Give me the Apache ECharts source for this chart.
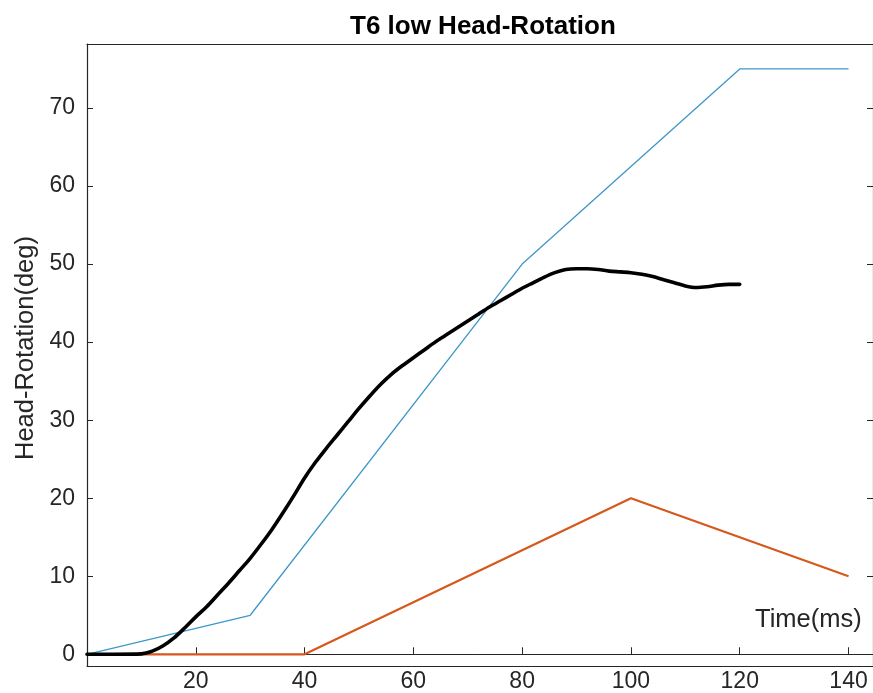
<!DOCTYPE html>
<html>
<head>
<meta charset="utf-8">
<title>T6 low Head-Rotation</title>
<script src="https://cdn.jsdelivr.net/npm/echarts@6/dist/echarts.min.js"></script>
<style>
  html, body { margin: 0; padding: 0; background: #fff; }
  #chart { width: 873px; height: 693px; }
</style>
</head>
<body>
<div id="chart"></div>
<script>
// Head rotation over time (ms), three traces
const xTicks = [20, 40, 60, 80, 100, 120, 140];
const yTicks = [0, 10, 20, 30, 40, 50, 60, 70];

// upper corridor (thin blue)
const upperTime = [0, 30, 80, 120, 140];
const upperAngle = [0, 5, 50, 75, 75];

// lower corridor (orange)
const lowerTime = [0, 40, 100, 140];
const lowerAngle = [0, 0, 20, 10];

// measured response (thick black)
const measTime = [0, 5, 10, 12, 14, 16, 18, 20, 22, 24, 26, 28, 30, 32, 34, 36, 38, 40,
  42, 44, 46, 48, 50, 52, 54, 56, 58, 60, 62, 64, 66, 68, 70, 72, 74, 76, 78, 80,
  82, 84, 86, 88, 90, 92, 94, 96, 98, 100, 102, 104, 106, 108, 110, 112, 114, 116, 118, 120];
const measAngle = [0, 0, 0.05, 0.4, 1.1, 2.1, 3.4, 4.8, 6.1, 7.6, 9.1, 10.7, 12.3, 14.1, 16.0, 18.1, 20.3, 22.6,
  24.6, 26.4, 28.1, 29.8, 31.5, 33.1, 34.6, 35.9, 37.0, 38.0, 39.0, 40.0, 40.9, 41.8, 42.7, 43.6, 44.5, 45.3, 46.1, 46.9,
  47.6, 48.3, 48.9, 49.3, 49.4, 49.4, 49.3, 49.1, 49.0, 48.9, 48.7, 48.4, 48.0, 47.6, 47.2, 47.0, 47.1, 47.3, 47.4, 47.4];

const pairs = (xs, ys) => xs.map((x, i) => [x, ys[i]]);

const FONT = '"Liberation Sans", Arial, Helvetica, sans-serif';
const AXIS = '#262626';

const chart = echarts.init(document.getElementById('chart'), null, { renderer: 'canvas' });

chart.setOption({
  animation: false,
  backgroundColor: '#ffffff',
  title: {
    text: 'T6 low Head-Rotation',
    left: 345,
    top: 9,
    textStyle: { fontFamily: FONT, fontSize: 26, fontWeight: 'bold', color: '#000' }
  },
  grid: { left: 87, top: 44, width: 786, height: 622, containLabel: false },
  xAxis: [
    { // bottom frame edge with tick labels
      type: 'value', position: 'bottom', min: 0, max: 144.5,
      axisLine: { show: true, onZero: false, lineStyle: { color: AXIS, width: 1.2 } },
      axisTick: { show: false },
      splitLine: { show: false },
      axisLabel: {
        customValues: xTicks, margin: 4,
        fontFamily: FONT, fontSize: 23, color: AXIS
      }
    },
    { // top frame edge
      type: 'value', position: 'top', min: 0, max: 144.5,
      axisLine: { show: true, onZero: false, lineStyle: { color: AXIS, width: 1.2 } },
      axisTick: { show: false }, axisLabel: { show: false }, splitLine: { show: false }
    },
    { // axis line through y = 0 with ticks
      type: 'value', position: 'bottom', min: 0, max: 144.5,
      axisLine: { show: true, onZero: true, onZeroAxisIndex: 0, lineStyle: { color: AXIS, width: 1 } },
      axisTick: { show: true, inside: true, length: 7, customValues: xTicks, lineStyle: { color: AXIS, width: 1 } },
      axisLabel: { show: false }, splitLine: { show: false }
    }
  ],
  yAxis: [
    {
      type: 'value', position: 'left', min: -1.5, max: 78.2,
      name: 'Head-Rotation(deg)', nameLocation: 'middle', nameRotate: 90, nameGap: 48,
      nameTextStyle: { fontFamily: FONT, fontSize: 25.5, color: AXIS, padding: [0, 0, 0, 14] },
      axisLine: { show: true, onZero: false, lineStyle: { color: AXIS, width: 1.2 } },
      axisTick: { show: true, inside: true, length: 6, customValues: yTicks, lineStyle: { color: AXIS } },
      splitLine: { show: false },
      axisLabel: {
        customValues: yTicks, margin: 12,
        fontFamily: FONT, fontSize: 23, color: AXIS
      }
    },
    { // right frame edge
      type: 'value', position: 'right', min: -1.5, max: 78.2,
      axisLine: { show: true, onZero: false, lineStyle: { color: AXIS, width: 1.2 } },
      axisTick: { show: true, inside: true, length: 6, customValues: yTicks, lineStyle: { color: AXIS } },
      axisLabel: { show: false }, splitLine: { show: false }
    }
  ],
  graphic: [
    {
      type: 'text', left: 755, top: 607,
      style: { text: 'Time(ms)', fontFamily: FONT, fontSize: 25.5, fill: AXIS }
    }
  ],
  series: [
    {
      name: 'lower', type: 'line', xAxisIndex: 0, yAxisIndex: 0,
      data: pairs(lowerTime, lowerAngle), showSymbol: false, symbol: 'none',
      lineStyle: { color: '#D5581C', width: 2.2 }, z: 2
    },
    {
      name: 'upper', type: 'line', xAxisIndex: 0, yAxisIndex: 0,
      data: pairs(upperTime, upperAngle), showSymbol: false, symbol: 'none',
      lineStyle: { color: '#3f97c8', width: 1.3 }, z: 3
    },
    {
      name: 'measured', type: 'line', xAxisIndex: 0, yAxisIndex: 0,
      data: pairs(measTime, measAngle), showSymbol: false, symbol: 'none', smooth: 0.3,
      lineStyle: { color: '#000000', width: 3.6, cap: 'round', join: 'round' }, z: 4
    }
  ]
});
</script>
</body>
</html>
